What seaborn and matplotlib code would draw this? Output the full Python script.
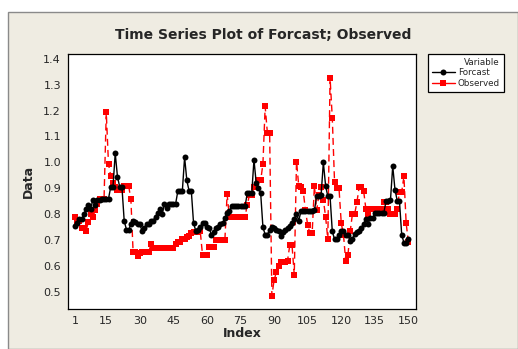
import numpy as np
import pandas as pd
import matplotlib
matplotlib.use("Agg")
import matplotlib.pyplot as plt
from matplotlib.patches import Rectangle
from matplotlib.lines import Line2D
import seaborn as sns

index = list(range(1, 151))

forcast = [
    0.755, 0.765, 0.78, 0.78, 0.80, 0.82, 0.835, 0.82, 0.855, 0.835,
    0.855, 0.855, 0.86, 0.86, 0.86, 0.86, 0.905, 0.905, 1.035, 0.945,
    0.905, 0.905, 0.775, 0.74, 0.74, 0.76, 0.775, 0.77, 0.76, 0.76,
    0.735, 0.745, 0.76, 0.76, 0.775, 0.775, 0.79, 0.805, 0.82, 0.80,
    0.84, 0.825, 0.84, 0.84, 0.84, 0.84, 0.89, 0.89, 0.89, 1.02,
    0.93, 0.89, 0.89, 0.765, 0.735, 0.74, 0.75, 0.765, 0.765, 0.75,
    0.745, 0.72, 0.73, 0.745, 0.75, 0.76, 0.765, 0.785, 0.805, 0.81,
    0.83, 0.83, 0.83, 0.83, 0.83, 0.83, 0.83, 0.88, 0.88, 0.88,
    1.01, 0.92, 0.90, 0.88, 0.75, 0.72, 0.72, 0.74, 0.75, 0.745,
    0.74, 0.735, 0.715, 0.73, 0.74, 0.745, 0.755, 0.765, 0.78, 0.80,
    0.775, 0.81, 0.81, 0.81, 0.81, 0.81, 0.81, 0.814, 0.868, 0.868,
    0.874, 1.0, 0.91, 0.868, 0.868, 0.733, 0.703, 0.703, 0.72, 0.733,
    0.733, 0.72, 0.72, 0.697, 0.703, 0.724, 0.729, 0.733, 0.746, 0.763,
    0.781, 0.763, 0.785, 0.785, 0.804, 0.804, 0.804, 0.804, 0.804, 0.849,
    0.849, 0.855, 0.986, 0.895, 0.852, 0.852, 0.721, 0.689, 0.689, 0.703,
]

observed = [
    0.787, 0.774, 0.774, 0.748, 0.748, 0.736, 0.77, 0.80, 0.787, 0.814,
    0.84, 0.857, 0.857, 0.857, 1.193, 0.993, 0.948, 0.922, 0.906, 0.893,
    0.893, 0.893, 0.909, 0.909, 0.909, 0.857, 0.652, 0.652, 0.638, 0.648,
    0.652, 0.652, 0.652, 0.652, 0.685, 0.668, 0.668, 0.668, 0.668, 0.668,
    0.668, 0.668, 0.668, 0.668, 0.668, 0.685, 0.694, 0.694, 0.703, 0.703,
    0.713, 0.716, 0.726, 0.729, 0.729, 0.729, 0.733, 0.643, 0.643, 0.643,
    0.672, 0.672, 0.672, 0.70, 0.70, 0.70, 0.70, 0.70, 0.877, 0.79,
    0.79, 0.79, 0.79, 0.79, 0.79, 0.79, 0.79, 0.835, 0.875, 0.875,
    0.905, 0.905, 0.93, 0.93, 0.994, 1.216, 1.113, 1.113, 0.484, 0.545,
    0.575, 0.60, 0.615, 0.615, 0.615, 0.62, 0.68, 0.68, 0.565, 1.003,
    0.91, 0.905, 0.89, 0.814, 0.758, 0.726, 0.726, 0.91, 0.814, 0.874,
    0.904, 0.855, 0.79, 0.703, 1.328, 1.17, 0.925, 0.899, 0.899, 0.765,
    0.72, 0.617, 0.643, 0.733, 0.801, 0.801, 0.846, 0.904, 0.904, 0.89,
    0.82, 0.80, 0.82, 0.82, 0.82, 0.82, 0.82, 0.82, 0.846, 0.846,
    0.82, 0.80, 0.80, 0.80, 0.82, 0.885, 0.885, 0.946, 0.765, 0.691,
]

x_ticks = [1, 15, 30, 45, 60, 75, 90, 105, 120, 135, 150]
y_ticks = [0.5, 0.6, 0.7, 0.8, 0.9, 1.0, 1.1, 1.2, 1.3, 1.4]

sns.set_style("white")
plt.rcParams['font.family'] = ['DejaVu Sans']

W, H = 518, 349
fig = plt.figure(figsize=(W / 100, H / 100), dpi=100, facecolor="white")

bg = "#EFECE2"
frame = Rectangle((8 / W, 0.0), 1 - 8 / W, 1 - 12 / H, transform=fig.transFigure,
                  facecolor=bg, edgecolor="#8a8a8a", linewidth=1.0, zorder=-10)
fig.patches.append(frame)

ax = fig.add_axes([68 / W, (H - 309) / H, 348 / W, 255 / H])
ax.set_facecolor("white")

df = pd.DataFrame({"Index": index, "Forcast": forcast, "Observed": observed})

sns.lineplot(data=df, x="Index", y="Forcast", ax=ax, color="black", linewidth=1.0,
             marker="o", markersize=4.3, markeredgewidth=0, zorder=3)
sns.lineplot(data=df, x="Index", y="Observed", ax=ax, color="#FF0000", linewidth=1.0,
             marker="s", markersize=4.3, markeredgewidth=0, zorder=2, linestyle=(0, (5, 3)))

ax.set_xlim(-2.1, 153.4)
ax.set_ylim(0.433, 1.419)
ax.set_xticks(x_ticks)
ax.set_yticks(y_ticks)
ax.set_xticklabels([str(t) for t in x_ticks], fontsize=8)
ax.set_yticklabels([f"{t:.1f}" for t in y_ticks], fontsize=8)
ax.tick_params(axis="both", direction="out", length=3, width=0.8, color="black", pad=2)
for s in ax.spines.values():
    s.set_color("black")
    s.set_linewidth(0.9)

ax.set_xlabel("Index", fontsize=9, fontweight="bold", labelpad=1)
ax.set_ylabel("Data", fontsize=9, fontweight="bold", labelpad=6)
fig.text(263 / W, 1 - 35 / H, "Time Series Plot of Forcast; Observed",
         ha="center", va="center", fontsize=10, fontweight="bold")

handles = [
    Line2D([0], [0], color="black", lw=1.0, marker="o", markersize=4.3, markeredgewidth=0),
    Line2D([0], [0], color="#FF0000", lw=1.0, marker="s", markersize=4.3, markeredgewidth=0),
]
leg = fig.legend(handles, ["Forcast", "Observed"], title="Variable",
                 loc="upper left", bbox_to_anchor=(428 / W, 1 - 54 / H),
                 bbox_transform=fig.transFigure, fontsize=6.3, title_fontsize=6.3,
                 fancybox=False, frameon=True, edgecolor="black", framealpha=1,
                 handlelength=2.6, borderpad=0.45, labelspacing=0.15, handletextpad=0.35,
                 borderaxespad=0)
leg.get_frame().set_linewidth(0.9)
leg._legend_box.align = "right"

fig.savefig("out.png", dpi=100, facecolor="white")
